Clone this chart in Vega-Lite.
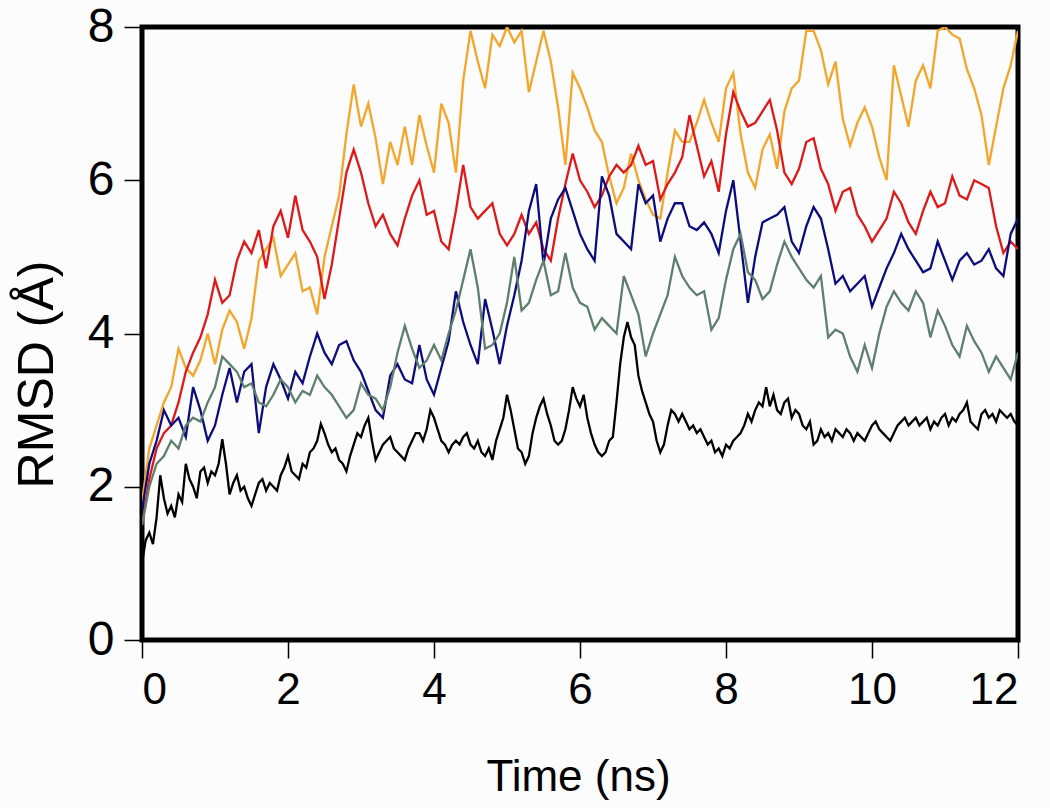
{
"$schema": "https://vega.github.io/schema/vega-lite/v6.json",
"autosize": {"type": "none"},
"padding": {"left": 142, "top": 27, "right": 32, "bottom": 168},
"width": 876,
"height": 613,
"background": "#fcfcfc",
"config": {
"view": {"stroke": "#000000", "strokeWidth": 5, "fill": "#fcfcfc"},
"axis": {"grid": false, "domain": false, "tickColor": "#000000", "tickWidth": 1.5, "tickSize": 18, "labelFont": "Liberation Sans", "labelFontSize": 44, "labelColor": "#000000", "titleFont": "Liberation Sans", "titleFontSize": 44, "titleFontWeight": "normal", "titleColor": "#000000"}
},
"datasets": {
"orange": [{"t":0,"v":1.8},{"t":0.1,"v":2.5},{"t":0.2,"v":2.8},{"t":0.3,"v":3.1},{"t":0.4,"v":3.3},{"t":0.5,"v":3.8},{"t":0.6,"v":3.55},{"t":0.7,"v":3.45},{"t":0.8,"v":3.65},{"t":0.9,"v":4.0},{"t":1.0,"v":3.6},{"t":1.1,"v":4.05},{"t":1.2,"v":4.3},{"t":1.3,"v":4.15},{"t":1.4,"v":3.8},{"t":1.5,"v":4.2},{"t":1.6,"v":4.95},{"t":1.7,"v":5.1},{"t":1.8,"v":5.25},{"t":1.9,"v":4.75},{"t":2.0,"v":4.9},{"t":2.1,"v":5.05},{"t":2.2,"v":4.55},{"t":2.3,"v":4.6},{"t":2.4,"v":4.25},{"t":2.5,"v":5.0},{"t":2.6,"v":5.4},{"t":2.7,"v":5.8},{"t":2.8,"v":6.6},{"t":2.9,"v":7.25},{"t":3.0,"v":6.7},{"t":3.1,"v":7.0},{"t":3.2,"v":6.55},{"t":3.3,"v":5.95},{"t":3.4,"v":6.5},{"t":3.5,"v":6.2},{"t":3.6,"v":6.7},{"t":3.7,"v":6.2},{"t":3.8,"v":6.85},{"t":3.9,"v":6.45},{"t":4.0,"v":6.1},{"t":4.1,"v":7.0},{"t":4.2,"v":6.75},{"t":4.3,"v":6.1},{"t":4.4,"v":7.3},{"t":4.5,"v":7.95},{"t":4.6,"v":7.55},{"t":4.7,"v":7.2},{"t":4.8,"v":7.9},{"t":4.9,"v":7.75},{"t":5.0,"v":8.0},{"t":5.1,"v":7.8},{"t":5.2,"v":7.95},{"t":5.3,"v":7.15},{"t":5.4,"v":7.55},{"t":5.5,"v":7.95},{"t":5.6,"v":7.55},{"t":5.7,"v":6.95},{"t":5.8,"v":6.2},{"t":5.9,"v":7.4},{"t":6.0,"v":7.2},{"t":6.1,"v":6.95},{"t":6.2,"v":6.65},{"t":6.3,"v":6.5},{"t":6.4,"v":6.05},{"t":6.5,"v":5.7},{"t":6.6,"v":5.9},{"t":6.7,"v":6.35},{"t":6.8,"v":6.0},{"t":6.9,"v":5.75},{"t":7.0,"v":5.55},{"t":7.1,"v":5.5},{"t":7.2,"v":6.1},{"t":7.3,"v":6.65},{"t":7.4,"v":6.5},{"t":7.5,"v":6.5},{"t":7.6,"v":6.75},{"t":7.7,"v":7.05},{"t":7.8,"v":6.75},{"t":7.9,"v":6.5},{"t":8.0,"v":7.2},{"t":8.1,"v":7.4},{"t":8.2,"v":6.6},{"t":8.3,"v":6.1},{"t":8.4,"v":5.9},{"t":8.5,"v":6.4},{"t":8.6,"v":6.6},{"t":8.7,"v":6.15},{"t":8.8,"v":6.9},{"t":8.9,"v":7.2},{"t":9.0,"v":7.3},{"t":9.1,"v":7.95},{"t":9.2,"v":7.95},{"t":9.3,"v":7.7},{"t":9.4,"v":7.25},{"t":9.5,"v":7.55},{"t":9.6,"v":6.8},{"t":9.7,"v":6.45},{"t":9.8,"v":6.75},{"t":9.9,"v":6.95},{"t":10.0,"v":6.7},{"t":10.1,"v":6.3},{"t":10.2,"v":6.0},{"t":10.3,"v":7.5},{"t":10.4,"v":7.1},{"t":10.5,"v":6.7},{"t":10.6,"v":7.3},{"t":10.7,"v":7.5},{"t":10.8,"v":7.2},{"t":10.9,"v":7.95},{"t":11.0,"v":8.0},{"t":11.1,"v":7.9},{"t":11.2,"v":7.85},{"t":11.3,"v":7.45},{"t":11.4,"v":7.2},{"t":11.5,"v":6.85},{"t":11.6,"v":6.2},{"t":11.7,"v":6.7},{"t":11.8,"v":7.2},{"t":11.9,"v":7.5},{"t":12.0,"v":7.95}],
"red": [{"t":0,"v":1.5},{"t":0.1,"v":2.1},{"t":0.2,"v":2.5},{"t":0.3,"v":2.7},{"t":0.4,"v":2.8},{"t":0.5,"v":3.1},{"t":0.6,"v":3.5},{"t":0.7,"v":3.75},{"t":0.8,"v":3.95},{"t":0.9,"v":4.25},{"t":1.0,"v":4.7},{"t":1.1,"v":4.4},{"t":1.2,"v":4.5},{"t":1.3,"v":4.95},{"t":1.4,"v":5.2},{"t":1.5,"v":5.05},{"t":1.6,"v":5.35},{"t":1.7,"v":4.85},{"t":1.8,"v":5.4},{"t":1.9,"v":5.6},{"t":2.0,"v":5.25},{"t":2.1,"v":5.8},{"t":2.2,"v":5.35},{"t":2.3,"v":5.2},{"t":2.4,"v":5.0},{"t":2.5,"v":4.45},{"t":2.6,"v":4.9},{"t":2.7,"v":5.5},{"t":2.8,"v":6.1},{"t":2.9,"v":6.4},{"t":3.0,"v":6.1},{"t":3.1,"v":5.7},{"t":3.2,"v":5.4},{"t":3.3,"v":5.55},{"t":3.4,"v":5.3},{"t":3.5,"v":5.15},{"t":3.6,"v":5.5},{"t":3.7,"v":5.8},{"t":3.8,"v":6.0},{"t":3.9,"v":5.55},{"t":4.0,"v":5.6},{"t":4.1,"v":5.2},{"t":4.2,"v":5.1},{"t":4.3,"v":5.6},{"t":4.4,"v":6.2},{"t":4.5,"v":5.65},{"t":4.6,"v":5.5},{"t":4.7,"v":5.6},{"t":4.8,"v":5.7},{"t":4.9,"v":5.3},{"t":5.0,"v":5.15},{"t":5.1,"v":5.3},{"t":5.2,"v":5.55},{"t":5.3,"v":5.3},{"t":5.4,"v":5.45},{"t":5.5,"v":5.1},{"t":5.6,"v":4.95},{"t":5.7,"v":5.5},{"t":5.8,"v":5.95},{"t":5.9,"v":6.35},{"t":6.0,"v":6.0},{"t":6.1,"v":5.85},{"t":6.2,"v":5.65},{"t":6.3,"v":5.8},{"t":6.4,"v":6.05},{"t":6.5,"v":6.2},{"t":6.6,"v":6.1},{"t":6.7,"v":6.2},{"t":6.8,"v":6.45},{"t":6.9,"v":6.2},{"t":7.0,"v":6.25},{"t":7.1,"v":5.75},{"t":7.2,"v":5.95},{"t":7.3,"v":6.1},{"t":7.4,"v":6.3},{"t":7.5,"v":6.85},{"t":7.6,"v":6.45},{"t":7.7,"v":6.05},{"t":7.8,"v":6.25},{"t":7.9,"v":5.85},{"t":8.0,"v":6.6},{"t":8.1,"v":7.15},{"t":8.2,"v":6.9},{"t":8.3,"v":6.7},{"t":8.4,"v":6.75},{"t":8.5,"v":6.9},{"t":8.6,"v":7.05},{"t":8.7,"v":6.65},{"t":8.8,"v":6.1},{"t":8.9,"v":5.95},{"t":9.0,"v":6.15},{"t":9.1,"v":6.5},{"t":9.2,"v":6.55},{"t":9.3,"v":6.15},{"t":9.4,"v":5.95},{"t":9.5,"v":5.6},{"t":9.6,"v":5.85},{"t":9.7,"v":5.9},{"t":9.8,"v":5.55},{"t":9.9,"v":5.4},{"t":10.0,"v":5.2},{"t":10.1,"v":5.35},{"t":10.2,"v":5.5},{"t":10.3,"v":5.85},{"t":10.4,"v":5.7},{"t":10.5,"v":5.45},{"t":10.6,"v":5.3},{"t":10.7,"v":5.6},{"t":10.8,"v":5.85},{"t":10.9,"v":5.65},{"t":11.0,"v":5.7},{"t":11.1,"v":6.05},{"t":11.2,"v":5.8},{"t":11.3,"v":5.75},{"t":11.4,"v":6.0},{"t":11.5,"v":5.95},{"t":11.6,"v":5.9},{"t":11.7,"v":5.4},{"t":11.8,"v":5.05},{"t":11.9,"v":5.2},{"t":12.0,"v":5.1}],
"navy": [{"t":0,"v":1.7},{"t":0.1,"v":2.3},{"t":0.2,"v":2.6},{"t":0.3,"v":3.0},{"t":0.4,"v":2.8},{"t":0.5,"v":2.9},{"t":0.6,"v":2.65},{"t":0.7,"v":3.3},{"t":0.8,"v":3.0},{"t":0.9,"v":2.6},{"t":1.0,"v":2.8},{"t":1.1,"v":3.2},{"t":1.2,"v":3.55},{"t":1.3,"v":3.1},{"t":1.4,"v":3.5},{"t":1.5,"v":3.6},{"t":1.6,"v":2.7},{"t":1.7,"v":3.3},{"t":1.8,"v":3.6},{"t":1.9,"v":3.4},{"t":2.0,"v":3.15},{"t":2.1,"v":3.5},{"t":2.2,"v":3.35},{"t":2.3,"v":3.7},{"t":2.4,"v":4.0},{"t":2.5,"v":3.75},{"t":2.6,"v":3.6},{"t":2.7,"v":3.85},{"t":2.8,"v":3.9},{"t":2.9,"v":3.65},{"t":3.0,"v":3.5},{"t":3.1,"v":3.25},{"t":3.2,"v":3.0},{"t":3.3,"v":2.9},{"t":3.4,"v":3.45},{"t":3.5,"v":3.6},{"t":3.6,"v":3.4},{"t":3.7,"v":3.35},{"t":3.8,"v":3.85},{"t":3.9,"v":3.4},{"t":4.0,"v":3.2},{"t":4.1,"v":3.55},{"t":4.2,"v":3.9},{"t":4.3,"v":4.55},{"t":4.4,"v":4.15},{"t":4.5,"v":3.85},{"t":4.6,"v":3.6},{"t":4.7,"v":4.45},{"t":4.8,"v":4.05},{"t":4.9,"v":3.6},{"t":5.0,"v":4.1},{"t":5.1,"v":4.5},{"t":5.2,"v":4.95},{"t":5.3,"v":5.6},{"t":5.4,"v":5.95},{"t":5.5,"v":4.9},{"t":5.6,"v":5.5},{"t":5.7,"v":5.75},{"t":5.8,"v":5.9},{"t":5.9,"v":5.6},{"t":6.0,"v":5.3},{"t":6.1,"v":5.1},{"t":6.2,"v":4.95},{"t":6.3,"v":6.05},{"t":6.4,"v":5.8},{"t":6.5,"v":5.3},{"t":6.6,"v":5.2},{"t":6.7,"v":5.1},{"t":6.8,"v":5.95},{"t":6.9,"v":5.7},{"t":7.0,"v":5.8},{"t":7.1,"v":5.2},{"t":7.2,"v":5.5},{"t":7.3,"v":5.7},{"t":7.4,"v":5.7},{"t":7.5,"v":5.4},{"t":7.6,"v":5.35},{"t":7.7,"v":5.45},{"t":7.8,"v":5.3},{"t":7.9,"v":5.05},{"t":8.0,"v":5.6},{"t":8.1,"v":6.0},{"t":8.2,"v":5.2},{"t":8.3,"v":4.4},{"t":8.4,"v":5.0},{"t":8.5,"v":5.45},{"t":8.6,"v":5.5},{"t":8.7,"v":5.55},{"t":8.8,"v":5.65},{"t":8.9,"v":5.2},{"t":9.0,"v":5.05},{"t":9.1,"v":5.4},{"t":9.2,"v":5.65},{"t":9.3,"v":5.5},{"t":9.4,"v":5.1},{"t":9.5,"v":4.65},{"t":9.6,"v":4.75},{"t":9.7,"v":4.55},{"t":9.8,"v":4.65},{"t":9.9,"v":4.75},{"t":10.0,"v":4.35},{"t":10.1,"v":4.6},{"t":10.2,"v":4.85},{"t":10.3,"v":5.05},{"t":10.4,"v":5.3},{"t":10.5,"v":5.1},{"t":10.6,"v":4.95},{"t":10.7,"v":4.8},{"t":10.8,"v":4.85},{"t":10.9,"v":5.2},{"t":11.0,"v":4.95},{"t":11.1,"v":4.7},{"t":11.2,"v":4.95},{"t":11.3,"v":5.05},{"t":11.4,"v":4.9},{"t":11.5,"v":4.95},{"t":11.6,"v":5.1},{"t":11.7,"v":4.85},{"t":11.8,"v":4.75},{"t":11.9,"v":5.3},{"t":12.0,"v":5.5}],
"gray": [{"t":0,"v":1.5},{"t":0.1,"v":2.0},{"t":0.2,"v":2.3},{"t":0.3,"v":2.4},{"t":0.4,"v":2.6},{"t":0.5,"v":2.5},{"t":0.6,"v":2.8},{"t":0.7,"v":2.9},{"t":0.8,"v":2.85},{"t":0.9,"v":3.1},{"t":1.0,"v":3.3},{"t":1.1,"v":3.7},{"t":1.2,"v":3.6},{"t":1.3,"v":3.5},{"t":1.4,"v":3.3},{"t":1.5,"v":3.35},{"t":1.6,"v":3.1},{"t":1.7,"v":3.05},{"t":1.8,"v":3.2},{"t":1.9,"v":3.4},{"t":2.0,"v":3.3},{"t":2.1,"v":3.1},{"t":2.2,"v":3.25},{"t":2.3,"v":3.2},{"t":2.4,"v":3.45},{"t":2.5,"v":3.3},{"t":2.6,"v":3.2},{"t":2.7,"v":3.05},{"t":2.8,"v":2.9},{"t":2.9,"v":3.0},{"t":3.0,"v":3.35},{"t":3.1,"v":3.2},{"t":3.2,"v":3.15},{"t":3.3,"v":3.0},{"t":3.4,"v":3.3},{"t":3.5,"v":3.75},{"t":3.6,"v":4.1},{"t":3.7,"v":3.8},{"t":3.8,"v":3.55},{"t":3.9,"v":3.65},{"t":4.0,"v":3.85},{"t":4.1,"v":3.65},{"t":4.2,"v":4.0},{"t":4.3,"v":4.3},{"t":4.4,"v":4.7},{"t":4.5,"v":5.1},{"t":4.6,"v":4.6},{"t":4.7,"v":3.8},{"t":4.8,"v":3.85},{"t":4.9,"v":4.0},{"t":5.0,"v":4.4},{"t":5.1,"v":5.0},{"t":5.2,"v":4.3},{"t":5.3,"v":4.4},{"t":5.4,"v":4.7},{"t":5.5,"v":4.95},{"t":5.6,"v":4.5},{"t":5.7,"v":4.55},{"t":5.8,"v":5.05},{"t":5.9,"v":4.6},{"t":6.0,"v":4.4},{"t":6.1,"v":4.35},{"t":6.2,"v":4.05},{"t":6.3,"v":4.2},{"t":6.4,"v":4.1},{"t":6.5,"v":4.0},{"t":6.6,"v":4.75},{"t":6.7,"v":4.5},{"t":6.8,"v":4.25},{"t":6.9,"v":3.7},{"t":7.0,"v":4.0},{"t":7.1,"v":4.25},{"t":7.2,"v":4.5},{"t":7.3,"v":5.0},{"t":7.4,"v":4.75},{"t":7.5,"v":4.6},{"t":7.6,"v":4.5},{"t":7.7,"v":4.55},{"t":7.8,"v":4.05},{"t":7.9,"v":4.2},{"t":8.0,"v":4.7},{"t":8.1,"v":5.1},{"t":8.2,"v":5.3},{"t":8.3,"v":4.8},{"t":8.4,"v":4.7},{"t":8.5,"v":4.45},{"t":8.6,"v":4.55},{"t":8.7,"v":4.9},{"t":8.8,"v":5.2},{"t":8.9,"v":5.0},{"t":9.0,"v":4.85},{"t":9.1,"v":4.7},{"t":9.2,"v":4.6},{"t":9.3,"v":4.75},{"t":9.4,"v":3.95},{"t":9.5,"v":4.05},{"t":9.6,"v":4.0},{"t":9.7,"v":3.7},{"t":9.8,"v":3.5},{"t":9.9,"v":3.85},{"t":10.0,"v":3.55},{"t":10.1,"v":4.0},{"t":10.2,"v":4.35},{"t":10.3,"v":4.55},{"t":10.4,"v":4.4},{"t":10.5,"v":4.3},{"t":10.6,"v":4.55},{"t":10.7,"v":4.4},{"t":10.8,"v":3.95},{"t":10.9,"v":4.3},{"t":11.0,"v":4.1},{"t":11.1,"v":3.85},{"t":11.2,"v":3.7},{"t":11.3,"v":4.1},{"t":11.4,"v":3.9},{"t":11.5,"v":3.75},{"t":11.6,"v":3.5},{"t":11.7,"v":3.7},{"t":11.8,"v":3.55},{"t":11.9,"v":3.4},{"t":12.0,"v":3.75}],
"black": [{"t":0,"v":1.0},{"t":0.05,"v":1.3},{"t":0.1,"v":1.4},{"t":0.15,"v":1.25},{"t":0.2,"v":1.6},{"t":0.25,"v":2.15},{"t":0.3,"v":1.85},{"t":0.35,"v":1.65},{"t":0.4,"v":1.75},{"t":0.45,"v":1.6},{"t":0.5,"v":1.9},{"t":0.55,"v":1.8},{"t":0.6,"v":2.3},{"t":0.65,"v":2.1},{"t":0.7,"v":2.0},{"t":0.75,"v":1.85},{"t":0.8,"v":2.2},{"t":0.85,"v":2.25},{"t":0.9,"v":2.05},{"t":0.95,"v":2.2},{"t":1.0,"v":2.15},{"t":1.05,"v":2.3},{"t":1.1,"v":2.62},{"t":1.15,"v":2.3},{"t":1.2,"v":1.9},{"t":1.25,"v":2.05},{"t":1.3,"v":2.15},{"t":1.35,"v":1.95},{"t":1.4,"v":2.0},{"t":1.45,"v":1.85},{"t":1.5,"v":1.75},{"t":1.55,"v":1.9},{"t":1.6,"v":2.05},{"t":1.65,"v":2.1},{"t":1.7,"v":1.95},{"t":1.75,"v":2.05},{"t":1.8,"v":2.0},{"t":1.85,"v":1.95},{"t":1.9,"v":2.15},{"t":1.95,"v":2.25},{"t":2.0,"v":2.4},{"t":2.05,"v":2.2},{"t":2.1,"v":2.15},{"t":2.15,"v":2.1},{"t":2.2,"v":2.3},{"t":2.25,"v":2.25},{"t":2.3,"v":2.45},{"t":2.35,"v":2.5},{"t":2.4,"v":2.6},{"t":2.45,"v":2.82},{"t":2.5,"v":2.7},{"t":2.55,"v":2.55},{"t":2.6,"v":2.45},{"t":2.65,"v":2.5},{"t":2.7,"v":2.35},{"t":2.75,"v":2.3},{"t":2.8,"v":2.2},{"t":2.85,"v":2.4},{"t":2.9,"v":2.55},{"t":2.95,"v":2.7},{"t":3.0,"v":2.65},{"t":3.05,"v":2.8},{"t":3.1,"v":2.9},{"t":3.15,"v":2.6},{"t":3.2,"v":2.35},{"t":3.25,"v":2.45},{"t":3.3,"v":2.55},{"t":3.35,"v":2.6},{"t":3.4,"v":2.65},{"t":3.45,"v":2.5},{"t":3.5,"v":2.45},{"t":3.55,"v":2.4},{"t":3.6,"v":2.35},{"t":3.65,"v":2.5},{"t":3.7,"v":2.6},{"t":3.75,"v":2.7},{"t":3.8,"v":2.7},{"t":3.85,"v":2.6},{"t":3.9,"v":2.75},{"t":3.95,"v":3.0},{"t":4.0,"v":2.9},{"t":4.05,"v":2.75},{"t":4.1,"v":2.6},{"t":4.15,"v":2.55},{"t":4.2,"v":2.45},{"t":4.25,"v":2.55},{"t":4.3,"v":2.6},{"t":4.35,"v":2.55},{"t":4.4,"v":2.65},{"t":4.45,"v":2.7},{"t":4.5,"v":2.55},{"t":4.55,"v":2.5},{"t":4.6,"v":2.6},{"t":4.65,"v":2.45},{"t":4.7,"v":2.4},{"t":4.75,"v":2.5},{"t":4.8,"v":2.35},{"t":4.85,"v":2.6},{"t":4.9,"v":2.75},{"t":4.95,"v":2.9},{"t":5.0,"v":3.2},{"t":5.05,"v":3.0},{"t":5.1,"v":2.75},{"t":5.15,"v":2.5},{"t":5.2,"v":2.45},{"t":5.25,"v":2.3},{"t":5.3,"v":2.4},{"t":5.35,"v":2.7},{"t":5.4,"v":2.9},{"t":5.45,"v":3.05},{"t":5.5,"v":3.15},{"t":5.55,"v":2.95},{"t":5.6,"v":2.8},{"t":5.65,"v":2.6},{"t":5.7,"v":2.55},{"t":5.75,"v":2.6},{"t":5.8,"v":2.75},{"t":5.85,"v":3.0},{"t":5.9,"v":3.3},{"t":5.95,"v":3.15},{"t":6.0,"v":3.05},{"t":6.05,"v":3.2},{"t":6.1,"v":2.9},{"t":6.15,"v":2.7},{"t":6.2,"v":2.55},{"t":6.25,"v":2.45},{"t":6.3,"v":2.4},{"t":6.35,"v":2.45},{"t":6.4,"v":2.6},{"t":6.45,"v":2.65},{"t":6.5,"v":3.1},{"t":6.55,"v":3.6},{"t":6.6,"v":3.95},{"t":6.65,"v":4.15},{"t":6.7,"v":3.95},{"t":6.75,"v":3.85},{"t":6.8,"v":3.45},{"t":6.85,"v":3.25},{"t":6.9,"v":3.1},{"t":6.95,"v":2.95},{"t":7.0,"v":2.85},{"t":7.05,"v":2.6},{"t":7.1,"v":2.45},{"t":7.15,"v":2.55},{"t":7.2,"v":2.8},{"t":7.25,"v":3.0},{"t":7.3,"v":2.95},{"t":7.35,"v":2.85},{"t":7.4,"v":2.95},{"t":7.45,"v":2.85},{"t":7.5,"v":2.75},{"t":7.55,"v":2.8},{"t":7.6,"v":2.7},{"t":7.65,"v":2.75},{"t":7.7,"v":2.65},{"t":7.75,"v":2.55},{"t":7.8,"v":2.6},{"t":7.85,"v":2.45},{"t":7.9,"v":2.5},{"t":7.95,"v":2.4},{"t":8.0,"v":2.55},{"t":8.05,"v":2.5},{"t":8.1,"v":2.6},{"t":8.15,"v":2.65},{"t":8.2,"v":2.7},{"t":8.25,"v":2.8},{"t":8.3,"v":2.95},{"t":8.35,"v":2.85},{"t":8.4,"v":3.0},{"t":8.45,"v":3.1},{"t":8.5,"v":3.05},{"t":8.55,"v":3.3},{"t":8.6,"v":3.05},{"t":8.65,"v":3.2},{"t":8.7,"v":3.0},{"t":8.75,"v":2.95},{"t":8.8,"v":3.1},{"t":8.85,"v":3.15},{"t":8.9,"v":2.9},{"t":8.95,"v":3.0},{"t":9.0,"v":2.95},{"t":9.05,"v":2.8},{"t":9.1,"v":2.75},{"t":9.15,"v":2.85},{"t":9.2,"v":2.55},{"t":9.25,"v":2.6},{"t":9.3,"v":2.75},{"t":9.35,"v":2.65},{"t":9.4,"v":2.7},{"t":9.45,"v":2.6},{"t":9.5,"v":2.75},{"t":9.55,"v":2.7},{"t":9.6,"v":2.65},{"t":9.65,"v":2.75},{"t":9.7,"v":2.7},{"t":9.75,"v":2.6},{"t":9.8,"v":2.7},{"t":9.85,"v":2.65},{"t":9.9,"v":2.6},{"t":9.95,"v":2.7},{"t":10.0,"v":2.8},{"t":10.05,"v":2.85},{"t":10.1,"v":2.75},{"t":10.15,"v":2.7},{"t":10.2,"v":2.65},{"t":10.25,"v":2.6},{"t":10.3,"v":2.7},{"t":10.35,"v":2.8},{"t":10.4,"v":2.85},{"t":10.45,"v":2.9},{"t":10.5,"v":2.8},{"t":10.55,"v":2.85},{"t":10.6,"v":2.9},{"t":10.65,"v":2.8},{"t":10.7,"v":2.85},{"t":10.75,"v":2.9},{"t":10.8,"v":2.75},{"t":10.85,"v":2.85},{"t":10.9,"v":2.8},{"t":10.95,"v":2.9},{"t":11.0,"v":2.95},{"t":11.05,"v":2.8},{"t":11.1,"v":2.9},{"t":11.15,"v":2.85},{"t":11.2,"v":2.95},{"t":11.25,"v":3.0},{"t":11.3,"v":3.1},{"t":11.35,"v":2.85},{"t":11.4,"v":2.8},{"t":11.45,"v":2.75},{"t":11.5,"v":2.95},{"t":11.55,"v":3.0},{"t":11.6,"v":2.9},{"t":11.65,"v":2.95},{"t":11.7,"v":2.85},{"t":11.75,"v":3.0},{"t":11.8,"v":2.95},{"t":11.85,"v":2.9},{"t":11.9,"v":2.95},{"t":11.95,"v":2.85},{"t":12.0,"v":2.8}]
},
"encoding": {
"x": {"field": "t", "type": "quantitative", "scale": {"domain": [0, 12], "nice": false, "zero": false}, "axis": {"values": [0, 2, 4, 6, 8, 10, 12], "title": "Time (ns)", "labelPadding": 10, "titleX": 436, "titleY": 150, "titleBaseline": "alphabetic", "titleAlign": "center"}},
"y": {"field": "v", "type": "quantitative", "scale": {"domain": [0, 8], "nice": false}, "axis": {"values": [0, 2, 4, 6, 8], "title": "RMSD (Å)", "labelPadding": 10, "labelFontSize": 48, "titleFontSize": 50, "titleX": -90, "titleY": 347, "titleAngle": -90, "titleBaseline": "alphabetic", "titleAlign": "center"}}
},
"layer": [
{"data": {"name": "orange"}, "mark": {"type": "line", "color": "#f4a52a", "strokeWidth": 2.3, "clip": true}},
{"data": {"name": "red"}, "mark": {"type": "line", "color": "#e01818", "strokeWidth": 2.3, "clip": true}},
{"data": {"name": "navy"}, "mark": {"type": "line", "color": "#0c0c80", "strokeWidth": 2.3, "clip": true}},
{"data": {"name": "gray"}, "mark": {"type": "line", "color": "#5f7f6e", "strokeWidth": 2.3, "clip": true}},
{"data": {"name": "black"}, "mark": {"type": "line", "color": "#000000", "strokeWidth": 2.3, "clip": true}}
]
}
